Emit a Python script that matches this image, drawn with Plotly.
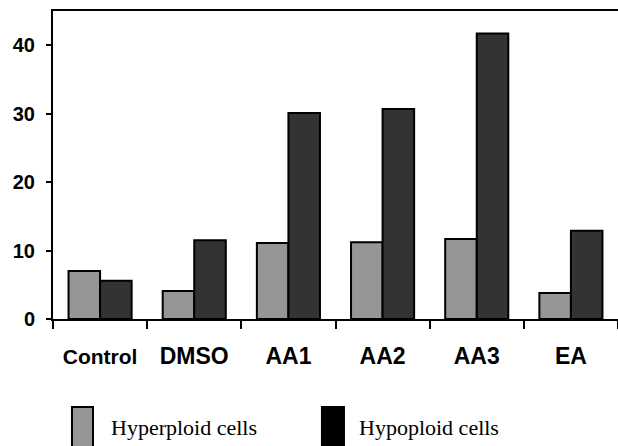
import plotly.graph_objects as go

categories = ["Control", "DMSO", "AA1", "AA2", "AA3", "EA"]
hyperploid = [7.0, 4.1, 11.1, 11.2, 11.7, 3.8]
hypoploid = [5.6, 11.5, 30.1, 30.7, 41.7, 12.9]
series_names = ["Hyperploid cells", "Hypoploid cells"]
y_ticks = [0, 10, 20, 30, 40]

hyper_color = "#969696"
hypo_color = "#333333"

fig = go.Figure()
fig.add_trace(go.Bar(x=categories, y=hyperploid, name=series_names[0],
                     marker=dict(color=hyper_color, line=dict(color="#000000", width=2))))
fig.add_trace(go.Bar(x=categories, y=hypoploid, name=series_names[1],
                     marker=dict(color=hypo_color, line=dict(color="#000000", width=2))))

tick_text = ['<span style="font-size:21px">%s</span>' % c if c == "Control" else c for c in categories]

fig.update_layout(
    width=618, height=446,
    margin=dict(l=53, r=0, t=11, b=127),
    paper_bgcolor="white", plot_bgcolor="white",
    barmode="group", bargap=0.33, bargroupgap=0,
    showlegend=False,
    xaxis=dict(
        type="category", range=[-0.5, 5.5], automargin=False,
        tickmode="array", tickvals=categories, ticktext=tick_text,
        tickson="boundaries", ticks="outside", ticklen=8, tickwidth=2, tickcolor="black",
        showline=True, linecolor="black", linewidth=2, mirror=True,
        showgrid=False, zeroline=False,
        tickfont=dict(family="Liberation Sans", size=23, color="black", weight="bold"),
        ticklabelstandoff=15,
    ),
    yaxis=dict(
        range=[0, 45], tickvals=y_ticks, automargin=False,
        ticks="outside", ticklen=5, tickwidth=2, tickcolor="black",
        showline=True, linecolor="black", linewidth=2,
        showgrid=False, zeroline=False,
        tickfont=dict(family="Liberation Sans", size=20, color="black", weight="bold"),
        ticklabelstandoff=7,
    ),
)

# manual legend below the chart
legend_items = [
    (series_names[0], hyper_color, "#000000", 0.0336, 0.0708, 0.0991),
    (series_names[1], "#000000", "#000000", 0.476, 0.515, 0.538),
]
for name, fill, edge, x0, x1, xt in legend_items:
    fig.add_shape(type="rect", xref="paper", yref="paper", x0=x0, x1=x1, y0=-0.286, y1=-0.5,
                  fillcolor=fill, line=dict(color=edge, width=2))
    fig.add_annotation(text=name, xref="paper", yref="paper", x=xt, y=-0.352,
                       xanchor="left", yanchor="middle", showarrow=False,
                       font=dict(family="Liberation Serif", size=22, color="black"))

fig.write_html("out.html", config={"displayModeBar": False},
               post_script="document.body.style.margin='0';document.body.style.overflow='hidden';")
